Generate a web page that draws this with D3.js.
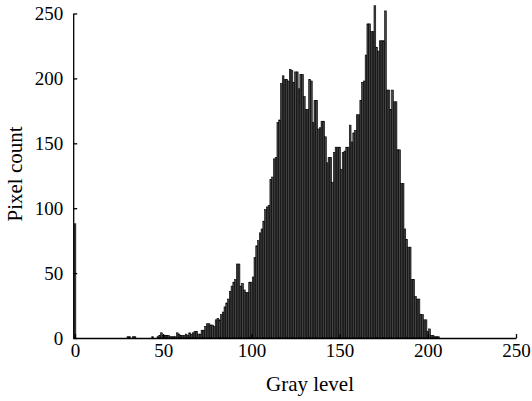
<!DOCTYPE html>
<html>
<head>
<meta charset="utf-8">
<script src="https://cdn.jsdelivr.net/npm/d3@7"></script>
<style>
  body { margin: 0; background: #fff; }
  svg text { font-family: "Liberation Serif", "Times New Roman", serif; fill: #000; }
</style>
</head>
<body>
<svg id="drawing_region"></svg>
<script>
// pixel counts per gray level (gray 0 .. 255)
const countsLow = [
  88, 0, 0, 0, 0, 0, 0, 0, 0, 0,
  0, 0, 0, 0, 0, 0, 0, 0, 0, 0,
  0, 0, 0, 0, 0, 0, 0, 0, 0, 0,
  1, 1, 0, 1, 1, 0, 0, 0, 0, 0,
  0, 0, 0, 0, 1, 0, 0, 1, 2, 4,
  2, 2, 2, 2, 1, 1, 1, 1, 4, 3,
  2, 2, 2, 3, 2, 4, 3, 4, 5, 5,
  3, 3, 6, 6, 9, 11, 11, 10, 10, 9,
  14, 15, 14, 18, 20, 24, 27, 30, 36, 40,
  43, 45, 57, 57, 40, 42, 37, 35, 35, 43
];
const countsMid = [
  43, 47, 62, 71, 75, 81, 84, 90, 99, 101,
  102, 122, 124, 138, 139, 166, 168, 196, 202, 199,
  199, 198, 207, 206, 197, 205, 205, 192, 203, 203,
  186, 176, 176, 199, 198, 166, 183, 183, 161, 162,
  167, 167, 155, 135, 139, 139, 120, 143, 147, 147,
  147, 130, 143, 144, 147, 147, 164, 151, 158, 160,
  172, 172, 183, 197, 198, 218, 242, 242, 236, 236,
  256, 224, 221, 229, 229, 229, 252, 191, 191, 176,
  191, 182, 182, 145, 145, 119, 119, 84, 76, 70,
  70, 45, 45, 32, 30, 30, 18, 18, 14, 14
];
const countsHigh = [
  5, 7, 2, 2, 1, 1, 1, 0, 0, 0,
  0, 0, 0, 0, 0, 0, 0, 0, 0, 0,
  0, 0, 0, 0, 0, 0, 0, 0, 0, 0,
  0, 0, 0, 0, 0, 0, 0, 0, 0, 0,
  0, 0, 0, 0, 0, 0, 0, 0, 0, 0,
  0, 0, 0, 0, 0, 0
];
const xTicks = [0, 50, 100, 150, 200, 250];
const yTicks = [0, 50, 100, 150, 200, 250];

const counts = countsLow.concat(countsMid, countsHigh);
const data = counts.map((c, i) => ({ gray: i, count: c }));

const width = 532, height = 401;
const svg = d3.select('#drawing_region')
  .attr('width', width)
  .attr('height', height);

const xscale = d3.scaleLinear().domain([-1, 250]).range([73.2, 516]);
const yscale = d3.scaleLinear().domain([0, 250]).range([338, 13.5]);
const bw = xscale(1) - xscale(0);

// bars
svg.append('g').selectAll('rect')
  .data(data.filter(d => d.count > 0))
  .join('rect')
  .attr('x', d => xscale(d.gray - 0.5))
  .attr('y', d => yscale(d.count))
  .attr('width', bw)
  .attr('height', d => yscale(0) - yscale(d.count))
  .attr('fill', '#444')
  .attr('stroke', '#000')
  .attr('stroke-width', 0.6);

// axes
const xaxis = d3.axisBottom(xscale)
  .tickValues(xTicks)
  .tickSizeInner(-4)
  .tickSizeOuter(0)
  .tickPadding(6);
const yaxis = d3.axisLeft(yscale)
  .tickValues(yTicks)
  .tickSizeInner(-4)
  .tickSizeOuter(0)
  .tickPadding(10);

const xg = svg.append('g')
  .attr('transform', `translate(0, ${yscale(0)})`)
  .call(xaxis);
const yg = svg.append('g')
  .attr('transform', `translate(${xscale(-1)}, 0)`)
  .call(yaxis);

[xg, yg].forEach(g => {
  g.select('.domain').attr('stroke', '#000').attr('stroke-width', 1.3);
  g.selectAll('.tick line').attr('stroke', '#000').attr('stroke-width', 1.3);
  g.selectAll('.tick text')
    .style('font-size', '19px')
    .style('font-family', '"Liberation Serif", serif')
    .attr('fill', '#000');
});

svg.append('text')
  .attr('x', 310)
  .attr('y', 391)
  .attr('text-anchor', 'middle')
  .style('font-size', '21px')
  .text('Gray level');

svg.append('text')
  .attr('transform', 'translate(22, 174) rotate(-90)')
  .attr('text-anchor', 'middle')
  .style('font-size', '21px')
  .text('Pixel count');
</script>
</body>
</html>
